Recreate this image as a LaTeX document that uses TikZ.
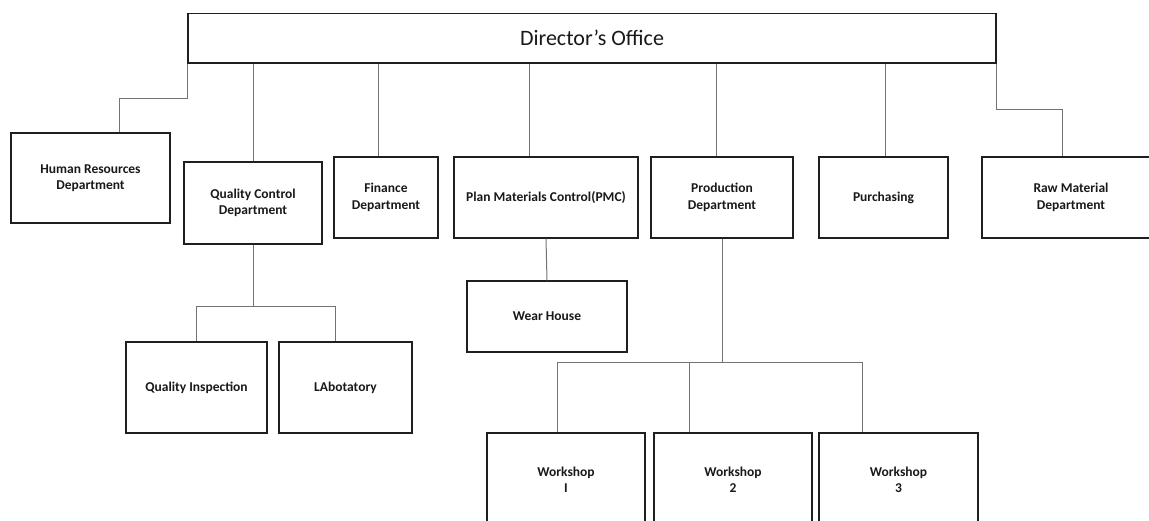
\documentclass[tikz,border=0pt]{standalone}
\usepackage{fontspec}
\setmainfont{Carlito}
\begin{document}
\begin{tikzpicture}[x=1pt,y=-1pt,
  unit/.style={draw=black!88,line width=1.3pt,fill=white,inner sep=0pt,
    align=center,font=\fontsize{13.5}{16.5}\selectfont\bfseries,text=black!90},
  link/.style={draw=black!55,line width=1pt}]
\useasboundingbox (0,0) rectangle (1149,520);
\clip (0,0) rectangle (1149,520);

% top level
\node[unit,minimum width=808pt,minimum height=49.5pt,
      font=\fontsize{22}{26}\selectfont] (dir) at (592,38.25) {Director’s Office};

% departments
\node[unit,minimum width=159pt,minimum height=90pt] (hr) at (90.5,178) {Human Resources\\Department};
\node[unit,minimum width=138pt,minimum height=82pt] (qc) at (253,203) {Quality Control\\Department};
\node[unit,minimum width=104pt,minimum height=81pt] (fin) at (386,197.5) {Finance\\Department};
\node[unit,minimum width=184pt,minimum height=81pt] (pmc) at (546,197.5) {Plan Materials Control(PMC)};
\node[unit,minimum width=142pt,minimum height=81pt] (prod) at (722,197.5) {Production\\Department};
\node[unit,minimum width=129pt,minimum height=81pt] (pur) at (883.5,197.5) {Purchasing};
\node[unit,minimum width=178pt,minimum height=81pt] (raw) at (1071,197.5) {Raw Material\\Department};

% sub units
\node[unit,minimum width=160pt,minimum height=71pt] (wh) at (547,316.5) {Wear House};
\node[unit,minimum width=141pt,minimum height=91pt] (qi) at (196.5,387.5) {Quality Inspection};
\node[unit,minimum width=133pt,minimum height=91pt] (lab) at (345.5,387.5) {LAbotatory};
\node[unit,minimum width=158pt,minimum height=94pt] (w1) at (566,480) {Workshop\\I};
\node[unit,minimum width=158pt,minimum height=94pt] (w2) at (733,480) {Workshop\\2};
\node[unit,minimum width=159pt,minimum height=94pt] (w3) at (898.5,480) {Workshop\\3};

% director to departments
\draw[link] (dir.south west) -- ++(0,35) -| ([xshift=28.5pt]hr.north);
\draw[link] (qc.north |- dir.south) -- (qc.north);
\draw[link] ([xshift=-8pt]fin.north |- dir.south) -- ([xshift=-8pt]fin.north);
\draw[link] ([xshift=-17pt]pmc.north |- dir.south) -- ([xshift=-17pt]pmc.north);
\draw[link] ([xshift=-6pt]prod.north |- dir.south) -- ([xshift=-6pt]prod.north);
\draw[link] ([xshift=1.5pt]pur.north |- dir.south) -- ([xshift=1.5pt]pur.north);
\draw[link] (dir.south east) -- ++(0,46) -| ([xshift=-9pt]raw.north);

% quality control branch
\coordinate (qcj) at ([yshift=-62pt]qc.south);
\draw[link] (qc.south) -- (qcj);
\draw[link] (qi.north) |- (qcj) -| ([xshift=-10.5pt]lab.north);

% plan materials branch
\draw[link] (pmc.south) -- (wh.north);

% production branch
\coordinate (prj) at ([yshift=-124pt]prod.south);
\draw[link] (prod.south) -- (prj);
\draw[link] ([xshift=-9pt]w1.north) |- (prj) -| ([xshift=-36.5pt]w3.north);
\draw[link] ([xshift=-44pt]w2.north) -- ([xshift=-44pt]w2.north |- prj);
\end{tikzpicture}
\end{document}
